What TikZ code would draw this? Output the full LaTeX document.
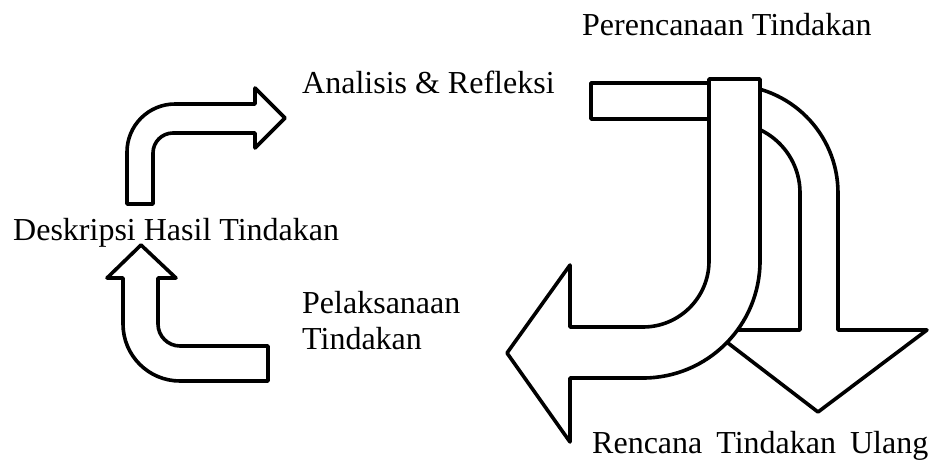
\documentclass[tikz,border=0pt]{standalone}
\usepackage{fontspec}
\setmainfont{Liberation Serif}
\tikzset{
    panah/.style={draw=black, line width=3.6pt, fill=white, line join=round},
    teks/.style={anchor=base west, inner sep=0pt, font=\fontsize{32}{38}\selectfont}
}
\begin{document}
\begin{tikzpicture}[x=1pt, y=-1pt]
        \useasboundingbox (0, 0) rectangle (929, 466);

        \draw[panah] (127, 204) -- (127, 152) arc[start angle=180, end angle=270, radius=48] -- (255, 104) -- (255, 88) -- (285, 118) -- (255, 148) -- (255, 133) -- (173, 133) arc[start angle=270, end angle=180, radius=20] -- (153, 204) -- cycle;

        \draw[panah] (268, 346) -- (180, 346) arc[start angle=90, end angle=180, radius=22] -- (158, 278) -- (176, 278) -- (141, 245) -- (107, 278) -- (123, 278) -- (123, 324) arc[start angle=180, end angle=90, radius=57] -- (268, 381) -- cycle;

        \draw[panah] (591, 83) rectangle (735, 119);

        \draw[panah] (730, 85) arc[start angle=270, end angle=360, radius=108] -- (838, 330) -- (927, 330) -- (818, 412) -- (711, 330) -- (800, 330) -- (800, 193) arc[start angle=0, end angle=-90, radius=70] -- cycle;

        \draw[panah] (709, 79) -- (760, 79) -- (760, 261) arc[start angle=0, end angle=90, radius=117] -- (570, 378) -- (570, 442) -- (507, 353) -- (570, 265) -- (570, 327) -- (643, 327) arc[start angle=90, end angle=0, radius=66] -- cycle;

        \node[teks] (rencana) at (582, 35) {Perencanaan Tindakan};
        \node[teks] (analisis) at (302, 93) {Analisis \& Refleksi};
        \node[teks] (deskripsi) at (13, 240) {Deskripsi Hasil Tindakan};
        \node[teks] (pelaksanaan) at (302, 313) {Pelaksanaan};
        \node[teks] (tindakan) at (302, 349) {Tindakan};
        \node[teks] (ulang) at (592, 453) {Rencana\hspace{6pt} Tindakan\hspace{6pt} Ulang};
    \end{tikzpicture}
\end{document}
